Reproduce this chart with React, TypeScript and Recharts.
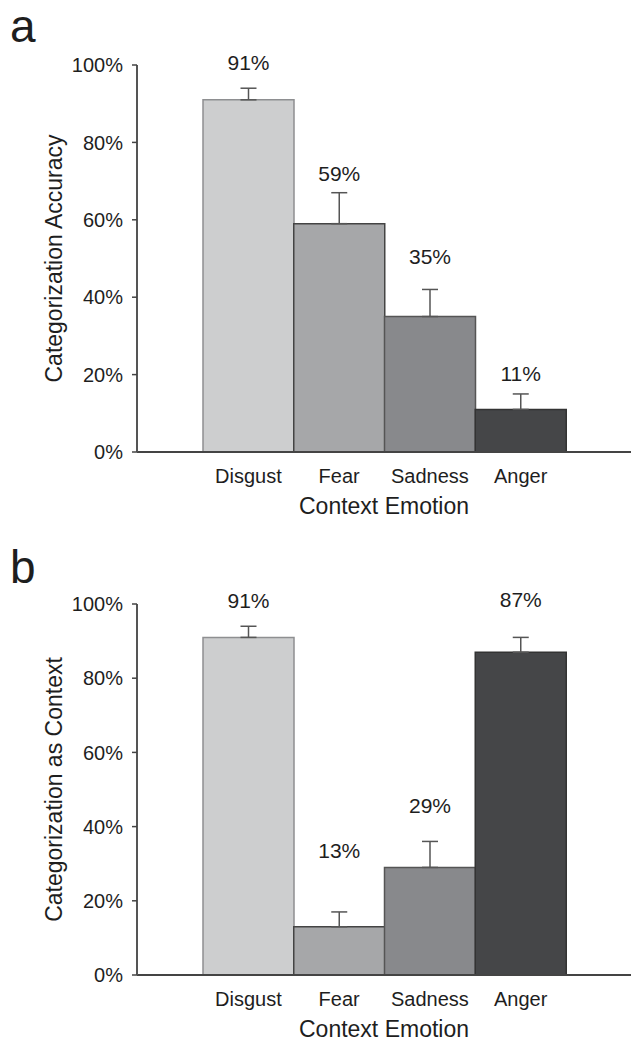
import React from "react";
import { BarChart, Bar, XAxis, YAxis, ErrorBar, LabelList, Cell } from "recharts";

const emotions = ["Disgust", "Fear", "Sadness", "Anger"];
const accuracy = [91, 59, 35, 11];
const accuracyErr = [3, 8, 7, 4];
const asContext = [91, 13, 29, 87];
const asContextErr = [3, 4, 7, 4];
const yTicks = [0, 20, 40, 60, 80, 100];

const fills = ["#cdcecf", "#a6a7a9", "#88898c", "#454648"];
const strokes = ["#8e8f91", "#444", "#555", "#333"];
// how far each value label sits above its error bar (px)
const liftA = [26, 19, 33, 20];
const liftB = [26, 61, 36, 38];

const FONT = "'Liberation Sans', Arial, Helvetica, sans-serif";
const INK = "#1e1e1e";

const buildRows = (vals: number[], errs: number[]) =>
  emotions.map((name, i) => ({ name, value: vals[i], err: [0, errs[i]] }));

const makeLabel = (errs: number[], lift: number[]) => (props: any) => {
  const { x, y, width, height, value, index } = props;
  const pxPerUnit = height / value;
  const top = y - errs[index] * pxPerUnit;
  return (
    <text
      x={x + width / 2}
      y={top - lift[index]}
      textAnchor="middle"
      dominantBaseline="central"
      fontFamily={FONT}
      fontSize={21}
      fill={INK}
    >
      {value}%
    </text>
  );
};

const YTitle = (text: string) => (props: any) => {
  const { viewBox } = props;
  const cy = viewBox.y + viewBox.height / 2;
  return (
    <text
      x={54}
      y={cy}
      transform={`rotate(-90, 54, ${cy})`}
      textAnchor="middle"
      dominantBaseline="central"
      fontFamily={FONT}
      fontSize={23}
      fill={INK}
    >
      {text}
    </text>
  );
};

interface PanelProps {
  letter: string;
  letterBaseline: number;
  top: number;
  height: number;
  marginTop: number;
  marginBottom: number;
  vals: number[];
  errs: number[];
  lift: number[];
  yTitle: string;
}

const Panel = ({ letter, letterBaseline, top, height, marginTop, marginBottom, vals, errs, lift, yTitle }: PanelProps) => {
  const data = buildRows(vals, errs);
  return (
    <div style={{ position: "absolute", left: 0, top, width: 631, height }}>
      <svg width={70} height={90} style={{ position: "absolute", left: 0, top: 0 }}>
        <text x={10} y={letterBaseline} fontFamily={FONT} fontSize={46} fill={INK}>
          {letter}
        </text>
      </svg>
      <BarChart
        width={631}
        height={height}
        data={data}
        barCategoryGap={0}
        margin={{ top: marginTop, right: 0, bottom: marginBottom, left: 0 }}
      >
        <XAxis
          dataKey="name"
          tickLine={false}
          tickSize={0}
          tickMargin={17}
          height={62}
          padding={{ left: 66, right: 65 }}
          axisLine={{ stroke: "#444", strokeWidth: 2 }}
          tick={{ fontFamily: FONT, fontSize: 20, fill: INK }}
          label={{
            value: "Context Emotion",
            position: "insideBottom",
            offset: 0,
            style: { fontFamily: FONT, fontSize: 23, fill: INK },
          }}
        />
        <YAxis
          width={137}
          domain={[0, 100]}
          ticks={yTicks}
          interval={0}
          tickSize={5}
          tickMargin={9}
          tickFormatter={(v: number) => `${v}%`}
          axisLine={{ stroke: "#555", strokeWidth: 2 }}
          tickLine={{ stroke: "#444", strokeWidth: 1.5 }}
          tick={{ fontFamily: FONT, fontSize: 20, fill: INK }}
          label={{ content: YTitle(yTitle) }}
        />
        <Bar dataKey="value" isAnimationActive={false} strokeWidth={1.5}>
          {data.map((_, i) => (
            <Cell key={i} fill={fills[i]} stroke={strokes[i]} />
          ))}
          <ErrorBar dataKey="err" width={8} stroke="#555" strokeWidth={1.5} isAnimationActive={false} />
          <LabelList dataKey="value" content={makeLabel(errs, lift)} />
        </Bar>
      </BarChart>
    </div>
  );
};

export default function App() {
  return (
    <div style={{ position: "absolute", left: 0, top: 0, width: 631, height: 1044, background: "#fff" }}>
      <Panel
        letter="a"
        letterBaseline={42}
        top={0}
        height={530}
        marginTop={65}
        marginBottom={16}
        vals={accuracy}
        errs={accuracyErr}
        lift={liftA}
        yTitle="Categorization Accuracy"
      />
      <Panel
        letter="b"
        letterBaseline={63}
        top={520}
        height={524}
        marginTop={84}
        marginBottom={7}
        vals={asContext}
        errs={asContextErr}
        lift={liftB}
        yTitle="Categorization as Context"
      />
    </div>
  );
}
